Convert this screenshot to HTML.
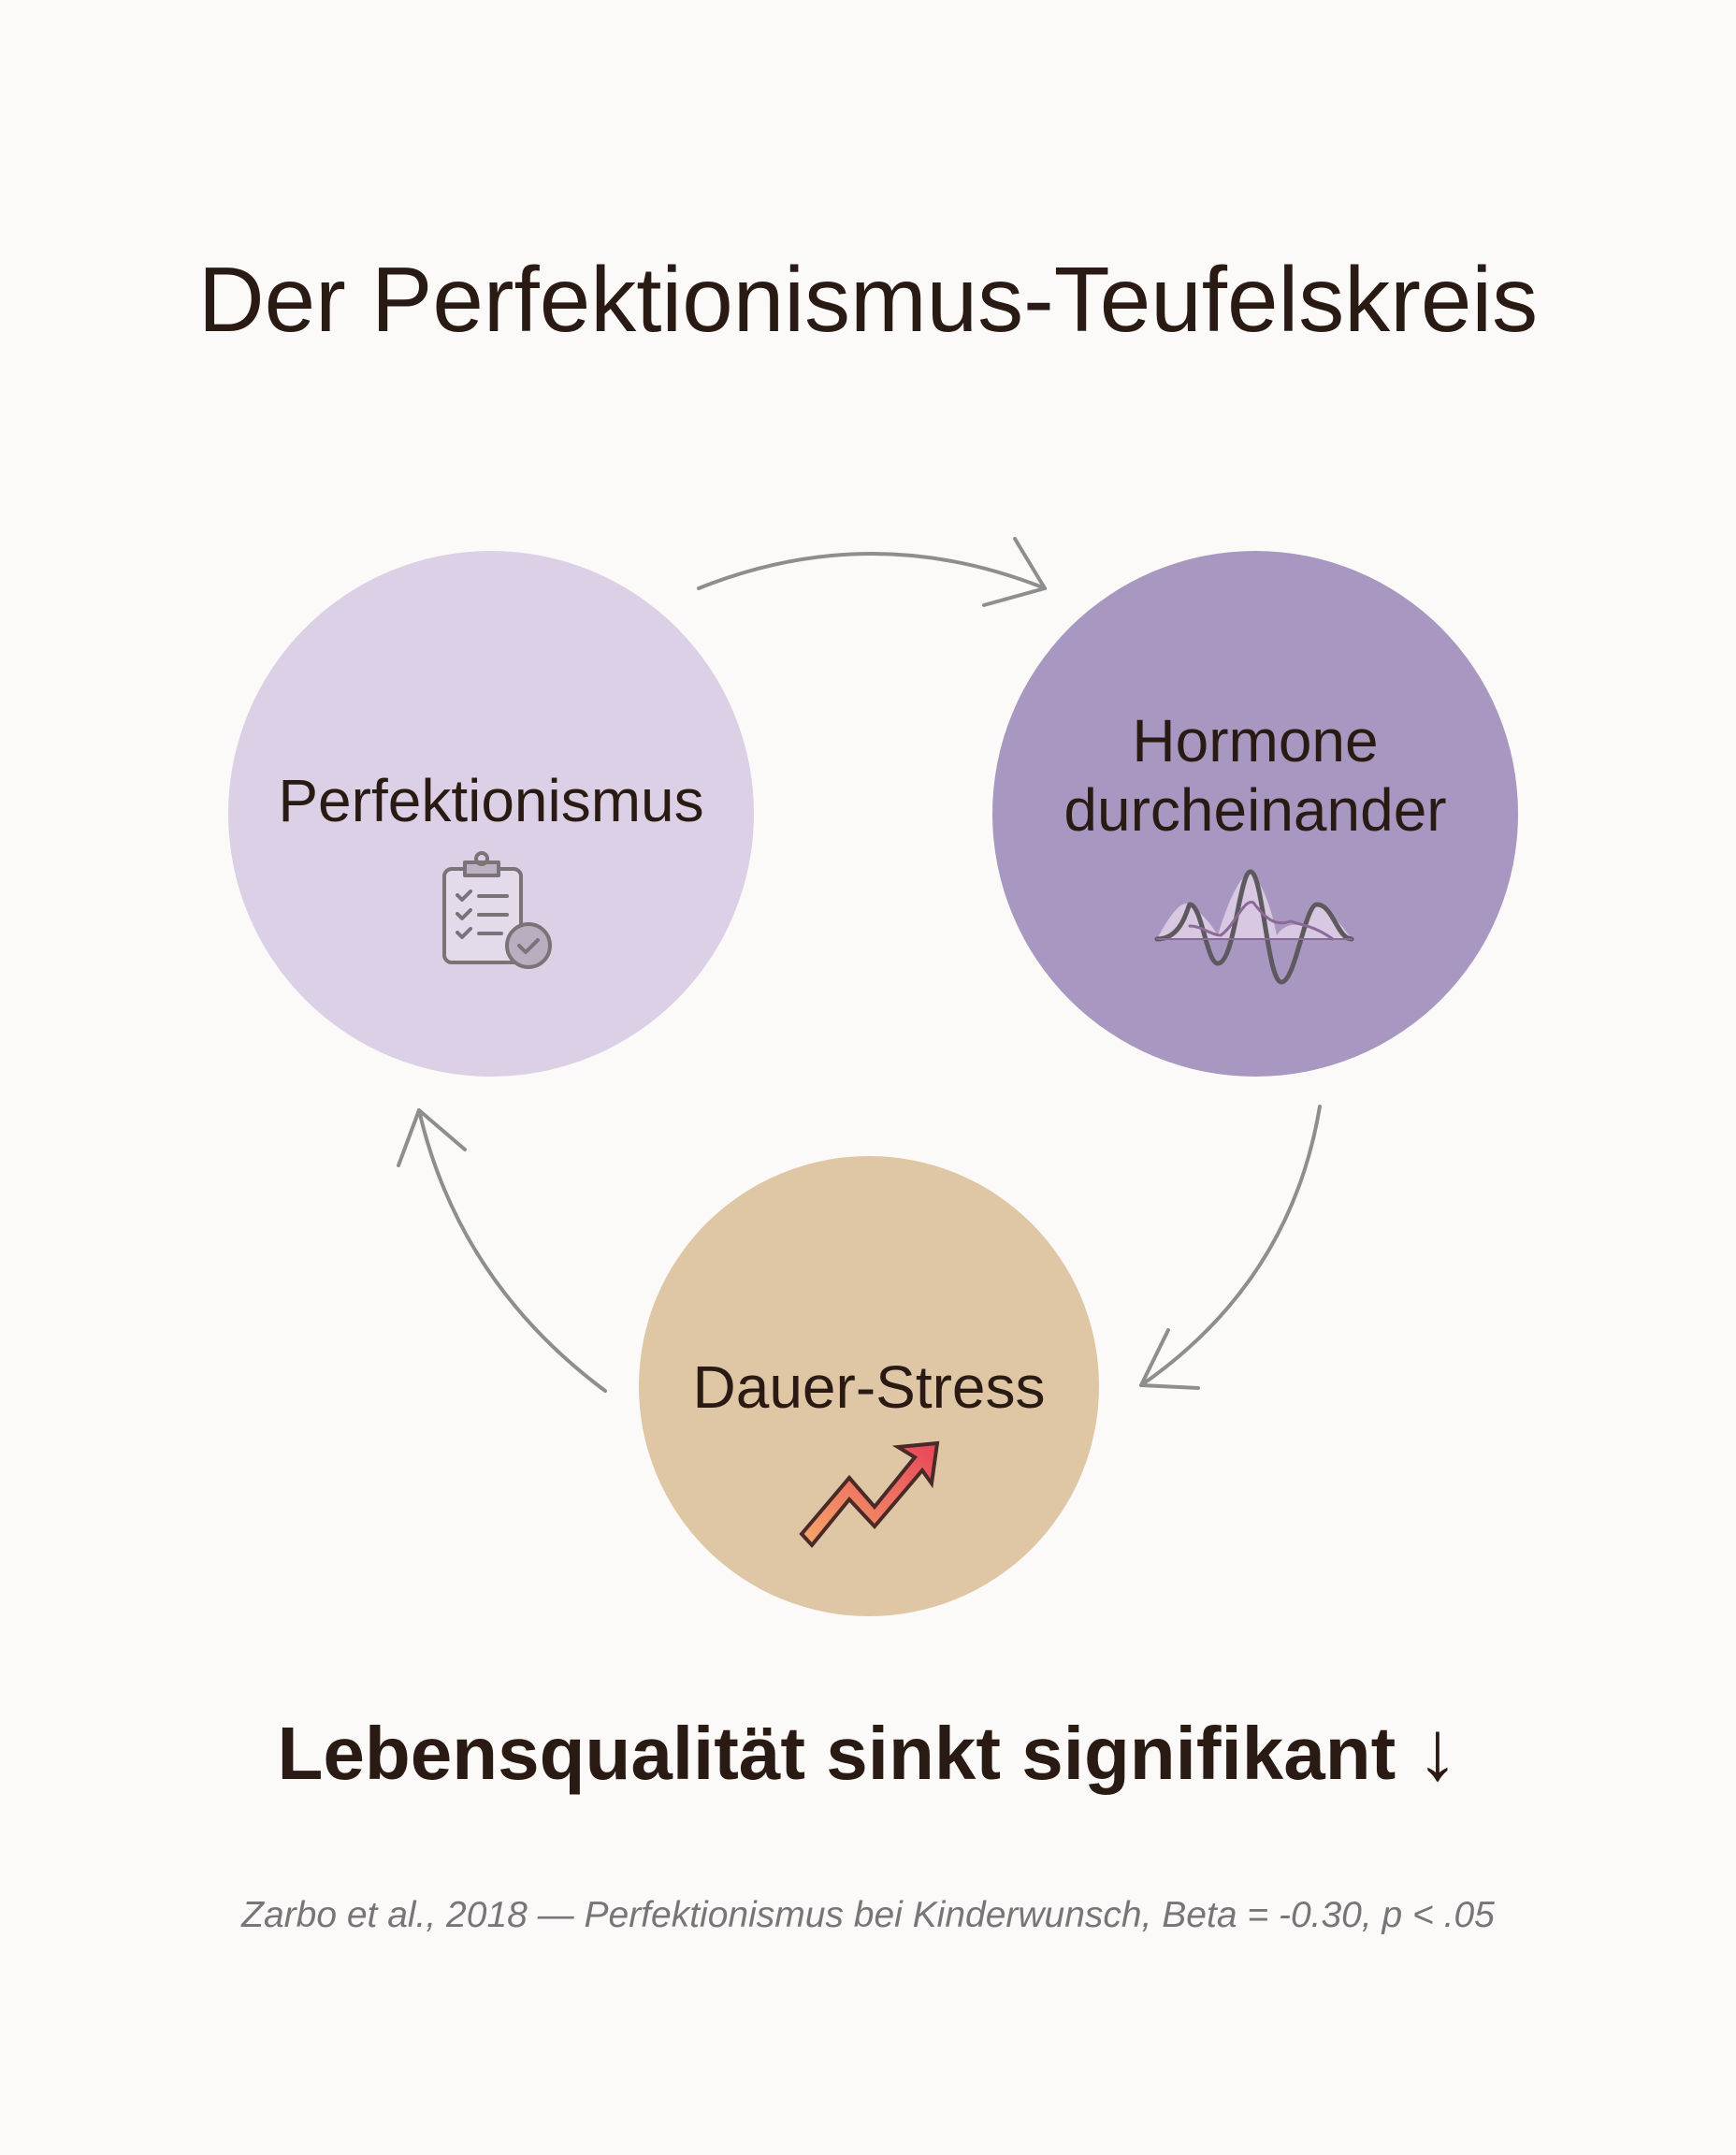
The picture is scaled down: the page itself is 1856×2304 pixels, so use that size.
<!DOCTYPE html>
<html><head><meta charset="utf-8"><style>
html,body{margin:0;padding:0;background:#fbfaf8;}
svg{display:block}
</style></head><body>
<svg width="1856" height="2304" viewBox="0 0 1856 2304" xmlns="http://www.w3.org/2000/svg">
<defs>
<linearGradient id="tg" x1="0" y1="1" x2="1" y2="0"><stop offset="0" stop-color="#f6a86a"/><stop offset="1" stop-color="#e8455a"/></linearGradient>
</defs>
<rect width="1856" height="2304" fill="#fbfaf8"/>
<text x="928" y="354" text-anchor="middle" font-family="Liberation Sans, sans-serif" font-size="98" fill="#2a1a14">Der Perfektionismus-Teufelskreis</text>

<circle cx="525" cy="870" r="281" fill="#dcd0e6"/>
<circle cx="1342" cy="870" r="281" fill="#a897c0"/>
<circle cx="929" cy="1482" r="246" fill="#dfc7a5"/>

<g font-family="Liberation Sans, sans-serif" font-size="64" fill="#2a1a14" text-anchor="middle">
<text x="525" y="878">Perfektionismus</text>
<text x="1342" y="814">Hormone</text>
<text x="1342" y="888">durcheinander</text>
<text x="929" y="1505">Dauer-Stress</text>
</g>

<g fill="none" stroke="#8e8e8e" stroke-width="4" stroke-linecap="round" stroke-linejoin="round">
<path d="M747 629 Q932 555 1117 629"/>
<path d="M1085 576 L1117 629 L1052 647"/>
<path d="M1411 1183 Q1380 1370 1220 1481"/>
<path d="M1249 1422 L1220 1481 L1281 1484"/>
<path d="M647 1487 Q490 1370 448 1187"/>
<path d="M426 1246 L448 1187 L497 1229"/>
</g>

<g fill="none" stroke="#7a7478" stroke-width="4" stroke-linecap="round" stroke-linejoin="round">
<rect x="475" y="929" width="82" height="100" rx="8" fill="#e3dbe9"/>
<path d="M497 922 h36 v14 h-36 z" fill="#bcb2c4"/>
<circle cx="515" cy="918" r="6"/>
<path d="M489 957 l5 5 l9 -9 M489 977 l5 5 l9 -9 M489 997 l5 5 l9 -9"/>
<path d="M512 958 h30 M512 978 h30 M512 998 h24"/>
<circle cx="565" cy="1011" r="23" fill="#b8aec0"/>
<path d="M555 1011 l7 7 l13 -13"/>
</g>

<g fill="none" stroke-linecap="round">
<path d="M1237 1004 Q1260 960 1272 967 Q1290 980 1302 1000 Q1320 940 1337 932 Q1355 950 1365 1000 Q1375 985 1392 990 Q1405 970 1408 967 Q1425 975 1445 1004 Z" fill="#e0d0e6" stroke="none" opacity="0.85"/>
<path d="M1237 1004 C1265 1004 1270 967 1272 967 C1285 967 1290 1030 1302 1030 C1320 1030 1325 932 1337 932 C1350 932 1355 1050 1370 1050 C1385 1050 1395 967 1408 967 C1425 967 1430 1004 1445 1004" stroke="#5c5a5e" stroke-width="5"/>
<path d="M1272 990 C1285 990 1295 1000 1305 1000 C1320 990 1330 960 1340 965 C1355 985 1365 990 1380 985 C1395 990 1405 990 1425 1004" stroke="#8a6a98" stroke-width="3"/>
<path d="M1237 1004 H1445" stroke="#8a6a98" stroke-width="2"/>
</g>

<polygon points="857,1640 908,1580 935,1611 978,1558 960,1547 1002,1543 996,1586 986,1572 935,1632 908,1603 868,1652" fill="url(#tg)" stroke="#4a2a26" stroke-width="4" stroke-linejoin="miter"/>

<text x="928" y="1902" text-anchor="middle" font-family="Liberation Sans, sans-serif" font-weight="bold" font-size="80" fill="#2a1a14">Lebensqualität sinkt signifikant <tspan font-weight="normal" font-size="90">↓</tspan></text>
<text x="928" y="2060" text-anchor="middle" font-family="Liberation Sans, sans-serif" font-style="italic" font-size="39" fill="#7a7478">Zarbo et al., 2018 — Perfektionismus bei Kinderwunsch, Beta = -0.30, p &lt; .05</text>
</svg>
</body></html>
